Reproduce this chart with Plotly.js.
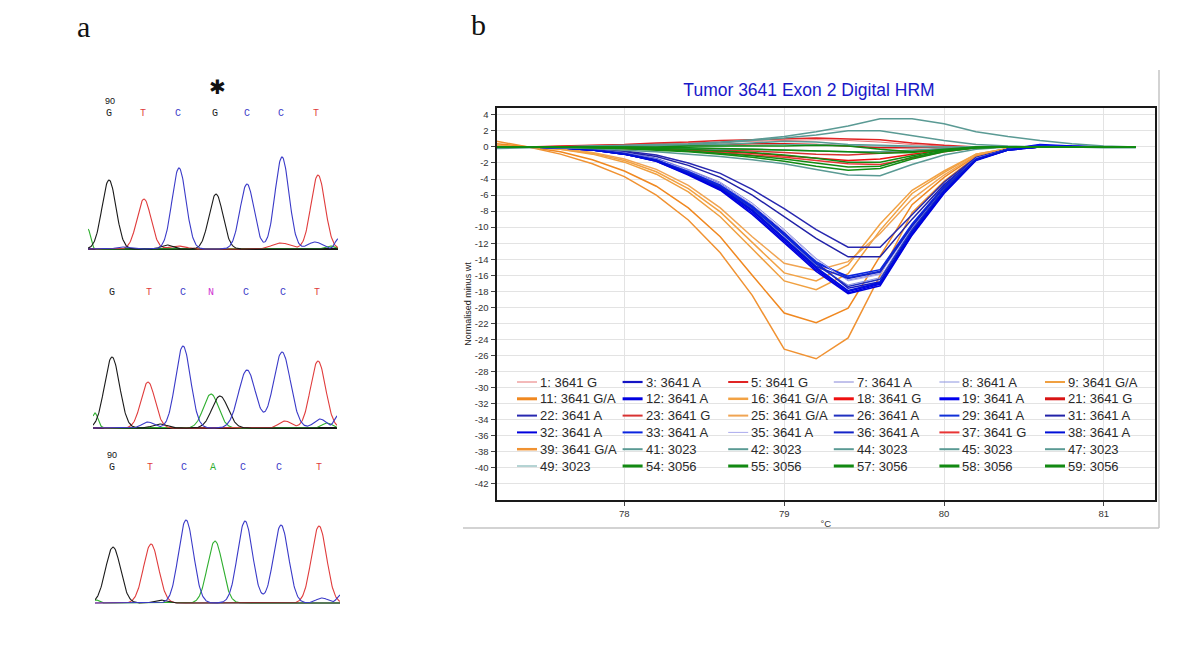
<!DOCTYPE html>
<html><head><meta charset="utf-8">
<script src="https://cdn.plot.ly/plotly-3.0.1.min.js"></script>
<style>html,body{margin:0;padding:0;background:#fff;}#chart{width:1200px;height:659px;}</style>
</head><body><div id="chart"></div>
<script>
// ---------- Panel b : HRM difference curves ----------
const temps = [77.2, 77.4, 77.6, 77.8, 78.0, 78.2, 78.4, 78.6, 78.8, 79.0, 79.2, 79.4, 79.6, 79.8, 80.0, 80.2, 80.4, 80.6, 80.8, 81.0, 81.2];

// 3641 G (red)
const s1  = [0, 0, 0.1, 0.2, 0.3, 0.4, 0.5, 0.6, 0.7, 0.8, 0.9, 0.8, 0.6, 0.3, 0.1, 0, 0, 0, 0, 0, 0];
const s5  = [0, 0, 0.1, 0.2, 0.3, 0.5, 0.6, 0.8, 0.9, 1.0, 1.1, 1.0, 0.9, 0.5, 0.2, 0, 0, 0, 0, 0, 0];
const s18 = [0, 0, 0, -0.1, -0.2, -0.3, -0.4, -0.6, -0.8, -1.1, -1.4, -1.7, -1.5, -0.9, -0.4, -0.1, 0, 0, 0, 0, 0];
const s21 = [0, 0, 0, 0, 0.1, 0.1, 0.2, 0.3, 0.4, 0.4, 0.3, 0.1, -0.1, -0.1, 0, 0, 0, 0, 0, 0, 0];
const s23 = [0, 0, 0, -0.1, -0.1, -0.2, -0.3, -0.4, -0.5, -0.7, -0.9, -1.0, -0.8, -0.5, -0.2, 0, 0, 0, 0, 0, 0];
const s37 = [0, 0, 0, -0.1, -0.2, -0.3, -0.5, -0.7, -1.0, -1.3, -1.7, -2.1, -2.2, -1.4, -0.6, -0.1, 0, 0, 0, 0, 0];
// 3641 A (blue)
const s3  = [0, 0, -0.1, -0.3, -0.7, -1.5, -2.9, -4.6, -7.3, -10.7, -14.4, -17.6, -16.8, -10.5, -5.3, -1.5, -0.3, 0.2, 0, 0, 0];
const s7  = [0, 0, -0.1, -0.3, -0.7, -1.4, -2.8, -4.4, -7.0, -10.3, -13.9, -16.6, -15.8, -9.8, -5.0, -1.4, -0.3, 0, 0, 0, 0];
const s8  = [0, 0, -0.1, -0.3, -0.8, -1.6, -3.1, -4.9, -7.7, -11.1, -14.8, -17.2, -16.3, -10.1, -5.2, -1.5, -0.3, 0, 0, 0, 0];
const s12 = [0, 0, -0.1, -0.4, -0.9, -1.8, -3.4, -5.3, -8.2, -11.7, -15.3, -18.2, -17.1, -10.9, -5.7, -1.6, -0.4, 0.1, 0.1, 0, 0];
const s19 = [0, 0, -0.1, -0.4, -0.9, -1.7, -3.3, -5.2, -8.0, -11.5, -15.1, -18.0, -17.0, -10.7, -5.6, -1.6, -0.3, 0.3, 0.1, 0, 0];
const s22 = [0, 0, -0.1, -0.2, -0.5, -1.0, -2.0, -3.3, -5.3, -7.7, -10.3, -12.5, -12.5, -8.5, -4.4, -1.3, -0.3, 0, 0, 0, 0];
const s26 = [0, 0, -0.1, -0.3, -0.8, -1.6, -3.1, -4.9, -7.6, -11.0, -14.6, -17.4, -16.5, -10.3, -5.3, -1.5, -0.3, 0, 0, 0, 0];
const s29 = [0, 0, -0.1, -0.3, -0.8, -1.6, -3.0, -4.7, -7.4, -10.8, -14.3, -16.3, -15.5, -9.8, -5.0, -1.4, -0.3, 0.2, 0, 0, 0];
const s31 = [0, 0, -0.1, -0.3, -0.6, -1.2, -2.3, -3.8, -6.0, -8.7, -11.4, -13.7, -13.7, -9.0, -4.7, -1.4, -0.3, 0, 0, 0, 0];
const s32 = [0, 0, -0.1, -0.4, -0.9, -1.8, -3.5, -5.4, -8.4, -12.0, -15.5, -18.3, -17.3, -11.0, -5.8, -1.7, -0.4, 0, 0, 0, 0];
const s33 = [0, 0, -0.1, -0.3, -0.8, -1.5, -3.0, -4.8, -7.5, -10.9, -14.5, -16.1, -15.3, -9.6, -4.9, -1.4, -0.3, 0.1, 0, 0, 0];
const s35 = [0, 0, -0.1, -0.3, -0.7, -1.5, -2.9, -4.6, -7.2, -10.5, -14.0, -16.7, -15.9, -10.0, -5.1, -1.4, -0.3, 0, 0, 0, 0];
const s36 = [0, 0, -0.1, -0.3, -0.8, -1.6, -3.2, -5.0, -7.8, -11.3, -14.9, -16.4, -15.6, -9.9, -5.1, -1.5, -0.3, 0, 0, 0, 0];
const s38 = [0, 0, -0.1, -0.4, -0.9, -1.7, -3.3, -5.1, -7.9, -11.4, -15.0, -17.9, -16.9, -10.6, -5.5, -1.6, -0.4, 0, 0, 0, 0];
// 3641 G/A (orange)
const s9  = [0.2, 0.0, -0.3, -0.9, -1.9, -3.4, -5.6, -8.7, -12.7, -16.7, -17.8, -15.8, -10.4, -5.8, -3.2, -0.9, -0.2, 0, 0, 0, 0];
const s11 = [0.4, 0.0, -0.6, -1.6, -3.0, -4.9, -7.6, -11.2, -16.0, -20.7, -21.9, -20.1, -13.6, -7.2, -3.8, -1.1, -0.2, 0, 0, 0, 0];
const s16 = [0.1, 0.0, -0.3, -0.8, -1.7, -3.1, -5.2, -8.1, -11.9, -15.7, -16.7, -14.7, -9.6, -5.4, -3.0, -0.9, -0.2, 0, 0, 0, 0];
const s25 = [0.1, 0.0, -0.2, -0.7, -1.5, -2.8, -4.8, -7.6, -11.2, -14.5, -15.4, -14.3, -10.8, -6.5, -3.5, -1.0, -0.2, 0, 0, 0, 0];
const s39 = [0.7, 0.0, -0.9, -2.1, -3.7, -6.0, -9.1, -13.2, -18.5, -25.2, -26.4, -23.8, -16.0, -8.2, -4.3, -1.2, -0.3, 0, 0, 0, 0];
// 3023 (teal)
const s41 = [0, 0, 0, 0.1, 0.2, 0.3, 0.4, 0.6, 0.9, 1.3, 1.9, 2.6, 3.5, 3.5, 2.9, 1.9, 1.3, 0.8, 0.4, 0.1, 0];
const s42 = [0, 0, 0, 0.1, 0.1, 0.2, 0.3, 0.5, 0.8, 1.1, 1.5, 2.0, 2.0, 1.4, 0.8, 0.3, 0.1, 0, 0, 0, 0];
const s44 = [0, 0, -0.1, -0.2, -0.4, -0.6, -0.9, -1.2, -1.6, -2.1, -2.8, -3.5, -3.6, -2.2, -1.0, -0.3, 0, 0, 0, 0, 0];
const s45 = [0, 0, 0, 0, 0, 0.1, 0.2, 0.3, 0.5, 0.7, 0.6, 0.3, 0.2, 0.1, 0, 0, 0, 0, 0, 0, 0];
const s47 = [-0.2, -0.1, 0, 0, -0.1, -0.1, -0.2, -0.3, -0.3, -0.4, -0.5, -0.6, -0.6, -0.4, -0.2, 0, 0, 0, 0, -0.1, -0.1];
const s49 = [0, 0, 0, 0, 0, 0, 0.1, 0.1, 0.2, 0.3, 0.3, 0.2, 0.1, 0, 0, 0, 0, 0, 0, 0, 0];
// 3056 (green)
const s54 = [0, 0, 0, -0.1, -0.2, -0.4, -0.6, -0.9, -1.3, -1.8, -2.4, -2.9, -2.7, -1.5, -0.6, -0.1, 0, 0, 0, 0, 0];
const s55 = [0, 0, 0, -0.1, -0.2, -0.3, -0.5, -0.8, -1.1, -1.5, -2.0, -2.5, -2.4, -1.3, -0.5, -0.1, 0, 0, 0, 0, 0];
const s57 = [0, 0, 0, 0, -0.1, -0.2, -0.3, -0.5, -0.7, -1.0, -1.4, -1.9, -1.9, -1.1, -0.4, 0, 0, 0, 0, 0, 0];
const s58 = [0, 0, 0, 0, 0, 0, 0.1, 0.1, 0.1, 0.1, 0.2, 0.1, -0.3, -0.6, -0.4, -0.1, 0, 0, 0, 0, 0];
const s59 = [0, 0, 0, 0, 0, -0.1, -0.1, -0.2, -0.3, -0.4, -0.5, -0.6, -0.8, -0.7, -0.3, 0, 0, 0, 0, 0, 0];

const legendLabels = [
  '1: 3641 G', '3: 3641 A', '5: 3641 G', '7: 3641 A', '8: 3641 A', '9: 3641 G/A',
  '11: 3641 G/A', '12: 3641 A', '16: 3641 G/A', '18: 3641 G', '19: 3641 A', '21: 3641 G',
  '22: 3641 A', '23: 3641 G', '25: 3641 G/A', '26: 3641 A', '29: 3641 A', '31: 3641 A',
  '32: 3641 A', '33: 3641 A', '35: 3641 A', '36: 3641 A', '37: 3641 G', '38: 3641 A',
  '39: 3641 G/A', '41: 3023', '42: 3023', '44: 3023', '45: 3023', '47: 3023',
  '49: 3023', '54: 3056', '55: 3056', '57: 3056', '58: 3056', '59: 3056'];
const legendSeries = [s1, s3, s5, s7, s8, s9, s11, s12, s16, s18, s19, s21, s22, s23, s25, s26, s29, s31,
  s32, s33, s35, s36, s37, s38, s39, s41, s42, s44, s45, s47, s49, s54, s55, s57, s58, s59];
const yTickVals = [4, 2, 0, -2, -4, -6, -8, -10, -12, -14, -16, -18, -20, -22, -24, -26, -28, -30, -32, -34, -36, -38, -40, -42];
const yTickText = ['4', '2', '0', '-2', '-4', '-6', '-8', '-10', '-12', '-14', '-16', '-18', '-20', '-22', '-24', '-26', '-28', '-30', '-32', '-34', '-36', '-38', '-40', '-42'];
const xTickVals = [78, 79, 80, 81];
const xTickText = ['78', '79', '80', '81'];

// styles (kept apart from data)
const styleColor = ['#e87474', '#1414c4', '#e02424', '#8484d8', '#8c94e0', '#f0a040',
  '#f08820', '#0000e0', '#f2a244', '#ee1010', '#0000ee', '#d81414',
  '#2828b0', '#d83232', '#f0a452', '#2030c0', '#1030d8', '#2222a8',
  '#0000dd', '#0a24e0', '#aaaaee', '#1424c8', '#e83434', '#0010d8',
  '#f09232', '#5a9a94', '#5a9a94', '#5a9a94', '#5a9a94', '#5a9a94',
  '#6aa8a8', '#128a12', '#128a12', '#128a12', '#128a12', '#128a12'];
const styleLegendWidth = [1, 2.2, 2, 1, 1, 2,
  3, 3, 2.5, 3, 3, 3,
  2, 2, 2, 2, 2, 2,
  2, 2, 1, 2, 2, 2,
  2.5, 2, 2, 2, 2, 2,
  1, 3, 3, 3, 3, 3];

// ---------- Panel a : sequencing chromatograms (peaks: [scan, height, width]) ----------
const t1Range = [88, 338];
const t1G = [[109, 69, 7], [216, 55, 7], [167, 4, 6]];
const t1T = [[144, 50, 7], [318, 74, 7], [281, 6, 9], [178, 3, 8]];
const t1C = [[179, 81, 7], [247, 65, 7], [282, 92, 7], [315, 7, 7], [338, 10, 3], [122, 2, 6]];
const t1A = [[88, 20, 2.5], [330, 3, 5]];
const t1Calls = ['G', 'T', 'C', 'G', 'C', 'C', 'T'];
const t1CallScan = [109, 143, 178, 215, 247, 281, 316];

const t2Range = [93, 337];
const t2G = [[112, 71, 7.5], [220, 32, 8], [160, 4, 7]];
const t2T = [[148, 46, 7], [318, 67, 7.5], [285, 7, 6]];
const t2C = [[183, 82, 7.5], [247, 58, 8.5], [282, 76, 8.5], [148, 6, 6], [320, 9, 6], [337, 12, 3]];
const t2A = [[211, 34, 7.5], [95, 15, 3], [327, 5, 5]];
const t2Calls = ['G', 'T', 'C', 'N', 'C', 'C', 'T'];
const t2CallScan = [112, 149, 183, 211, 246, 283, 317];

const t3Range = [95, 340];
const t3G = [[113, 56, 7.5], [160, 3, 6]];
const t3T = [[151, 59, 7.5], [319, 77, 7.5]];
const t3C = [[186, 83, 7.5], [245, 82, 7.5], [281, 78, 7.5], [322, 5, 6], [340, 8, 3]];
const t3A = [[215, 62, 7.5], [96, 3, 3]];
const t3Calls = ['G', 'T', 'C', 'A', 'C', 'C', 'T'];
const t3CallScan = [112, 150, 184, 213, 243, 279, 319];

const baseColor = {G: '#1a1a1a', T: '#e03c3c', C: '#3a3ac8', A: '#2eae2e', N: '#d030d0'};

// ---------- build ----------
const W = 1200, H = 659;
const px = v => v / W;
const py = v => 1 - v / H;
const traces = [];

// HRM curves: draw orange, blue, red, teal, green groups in that order
const groupOrder = ['G/A', ' A', ' G', '3023', '3056'];
groupOrder.forEach(tag => {
  legendLabels.forEach((lab, i) => {
    if (!lab.endsWith(tag)) return;
    traces.push({
      type: 'scatter', mode: 'lines', x: temps, y: legendSeries[i], name: lab,
      xaxis: 'x', yaxis: 'y', showlegend: false, hoverinfo: 'skip',
      line: {color: styleColor[i], width: styleLegendWidth[i] <= 1 ? 1 : 1.5}
    });
  });
});

// chromatograms
function channel(peaks, range, color, ax) {
  const xs = [], ys = [];
  for (let x = range[0]; x <= range[1] + 1e-9; x += 0.5) {
    let y = 0;
    peaks.forEach(p => { y += p[1] * Math.exp(-((x - p[0]) ** 2) / (2 * p[2] * p[2])); });
    xs.push(x); ys.push(y);
  }
  return {type: 'scatter', mode: 'lines', x: xs, y: ys, xaxis: 'x' + ax, yaxis: 'y' + ax,
    showlegend: false, hoverinfo: 'skip', line: {color: color, width: 1.1}};
}
function calls(letters, scans, ax) {
  return {type: 'scatter', mode: 'text', x: scans, y: scans.map(() => 136), text: letters,
    textposition: 'middle center', xaxis: 'x' + ax, yaxis: 'y' + ax, showlegend: false, hoverinfo: 'skip',
    cliponaxis: false,
    textfont: {family: 'Liberation Mono, DejaVu Sans Mono, monospace', size: 10, color: letters.map(l => baseColor[l])}};
}
[[t1A, t1T, t1G, t1C, t1Range, t1Calls, t1CallScan, 2],
 [t2A, t2T, t2G, t2C, t2Range, t2Calls, t2CallScan, 3],
 [t3A, t3T, t3G, t3C, t3Range, t3Calls, t3CallScan, 4]].forEach(t => {
  traces.push(channel(t[0], t[4], baseColor.A, t[7]));
  traces.push(channel(t[1], t[4], baseColor.T, t[7]));
  traces.push(channel(t[2], t[4], baseColor.G, t[7]));
  traces.push(channel(t[3], t[4], baseColor.C, t[7]));
  traces.push(calls(t[5], t[6], t[7]));
});

const tickFont = {family: 'Liberation Sans Narrow, Liberation Sans, Arial, sans-serif', size: 9.5, color: '#333'};
const layout = {
  width: W, height: H, margin: {l: 0, r: 0, t: 0, b: 0},
  paper_bgcolor: '#fff', plot_bgcolor: '#fff', hovermode: false, showlegend: false,
  title: {text: 'Tumor 3641 Exon 2 Digital HRM', x: px(809), xanchor: 'center', y: py(90), yanchor: 'middle',
    font: {family: 'Liberation Sans, Arial, sans-serif', size: 17.5, color: '#1818c8'}},
  xaxis: {domain: [px(496.5), px(1155)], range: [77.2, 81.32], anchor: 'y',
    tickvals: xTickVals, ticktext: xTickText, ticks: 'outside', ticklen: 4, tickcolor: '#444',
    showgrid: true, gridcolor: '#e3e3e3', gridwidth: 1, zeroline: false,
    showline: true, mirror: true, linecolor: '#1a1a1a', linewidth: 2, tickfont: tickFont,
    title: {text: '°C', standoff: 2, font: {family: 'Liberation Sans Narrow, Liberation Sans, Arial, sans-serif', size: 9.5, color: '#333'}}},
  yaxis: {domain: [py(500), py(108)], range: [-44, 4.85], anchor: 'x',
    tickvals: yTickVals, ticktext: yTickText, ticks: 'outside', ticklen: 4, tickcolor: '#444',
    showgrid: true, gridcolor: '#e3e3e3', gridwidth: 1, zeroline: false,
    showline: true, mirror: true, linecolor: '#1a1a1a', linewidth: 2, tickfont: tickFont,
    title: {text: 'Normalised minus wt', standoff: 2, font: {family: 'Liberation Sans, Arial, sans-serif', size: 9, color: '#222'}}},
  shapes: [
    {type: 'line', xref: 'paper', yref: 'paper', x0: px(1159), x1: px(1159), y0: py(70), y1: py(528), line: {color: '#c4c4c4', width: 1.5}},
    {type: 'line', xref: 'paper', yref: 'paper', x0: px(463), x1: px(1159), y0: py(528), y1: py(528), line: {color: '#c4c4c4', width: 1.5}}
  ],
  annotations: [
    {text: 'a', x: px(83), y: py(27), xref: 'paper', yref: 'paper', showarrow: false, xanchor: 'center', yanchor: 'middle',
      font: {family: 'Liberation Serif, Times New Roman, serif', size: 30, color: '#111'}},
    {text: 'b', x: px(478), y: py(25), xref: 'paper', yref: 'paper', showarrow: false, xanchor: 'center', yanchor: 'middle',
      font: {family: 'Liberation Serif, Times New Roman, serif', size: 30, color: '#111'}},
    {text: '✱', x: px(217), y: py(87), xref: 'paper', yref: 'paper', showarrow: false, xanchor: 'center', yanchor: 'middle',
      font: {family: 'DejaVu Sans, sans-serif', size: 20, color: '#111'}},
    {text: '90', x: px(110), y: py(101), xref: 'paper', yref: 'paper', showarrow: false, xanchor: 'center', yanchor: 'middle',
      font: {family: 'Liberation Sans, Arial, sans-serif', size: 9, color: '#111'}},
    {text: '90', x: px(112), y: py(455), xref: 'paper', yref: 'paper', showarrow: false, xanchor: 'center', yanchor: 'middle',
      font: {family: 'Liberation Sans, Arial, sans-serif', size: 9, color: '#111'}}
  ]
};

// chromatogram subplots
const tracks = [[t1Range, 249, 2, true], [t2Range, 428, 3, true], [t3Range, 603, 4, false]];
tracks.forEach(t => {
  const r = t[0], b = t[1], k = t[2];
  layout['xaxis' + k] = {domain: [px(r[0]), px(r[1])], range: r, anchor: 'y' + k,
    visible: false, showgrid: false, zeroline: false};
  layout['yaxis' + k] = {domain: [py(b + 2), py(b - 168)], range: [-2, 168], anchor: 'x' + k,
    showgrid: false, showticklabels: false, ticks: '', showline: false,
    zeroline: t[3], zerolinecolor: '#111', zerolinewidth: 1.8};
});

// custom legend inside the HRM plot (6 columns)
legendLabels.forEach((lab, i) => {
  const row = Math.floor(i / 6), col = i % 6;
  const x0 = 517 + col * 105.6, yc = 382 + row * 16.8;
  layout.shapes.push({type: 'line', xref: 'paper', yref: 'paper', x0: px(x0), x1: px(x0 + 20), y0: py(yc), y1: py(yc),
    line: {color: styleColor[i], width: styleLegendWidth[i]}});
  layout.annotations.push({text: lab, xref: 'paper', yref: 'paper', x: px(x0 + 21), y: py(yc), xanchor: 'left', yanchor: 'middle',
    showarrow: false, font: {family: 'Liberation Sans, Arial, sans-serif', size: 13, color: '#2a2a2a'}});
});

Plotly.newPlot('chart', traces, layout, {displayModeBar: false, staticPlot: true});
</script></body></html>
